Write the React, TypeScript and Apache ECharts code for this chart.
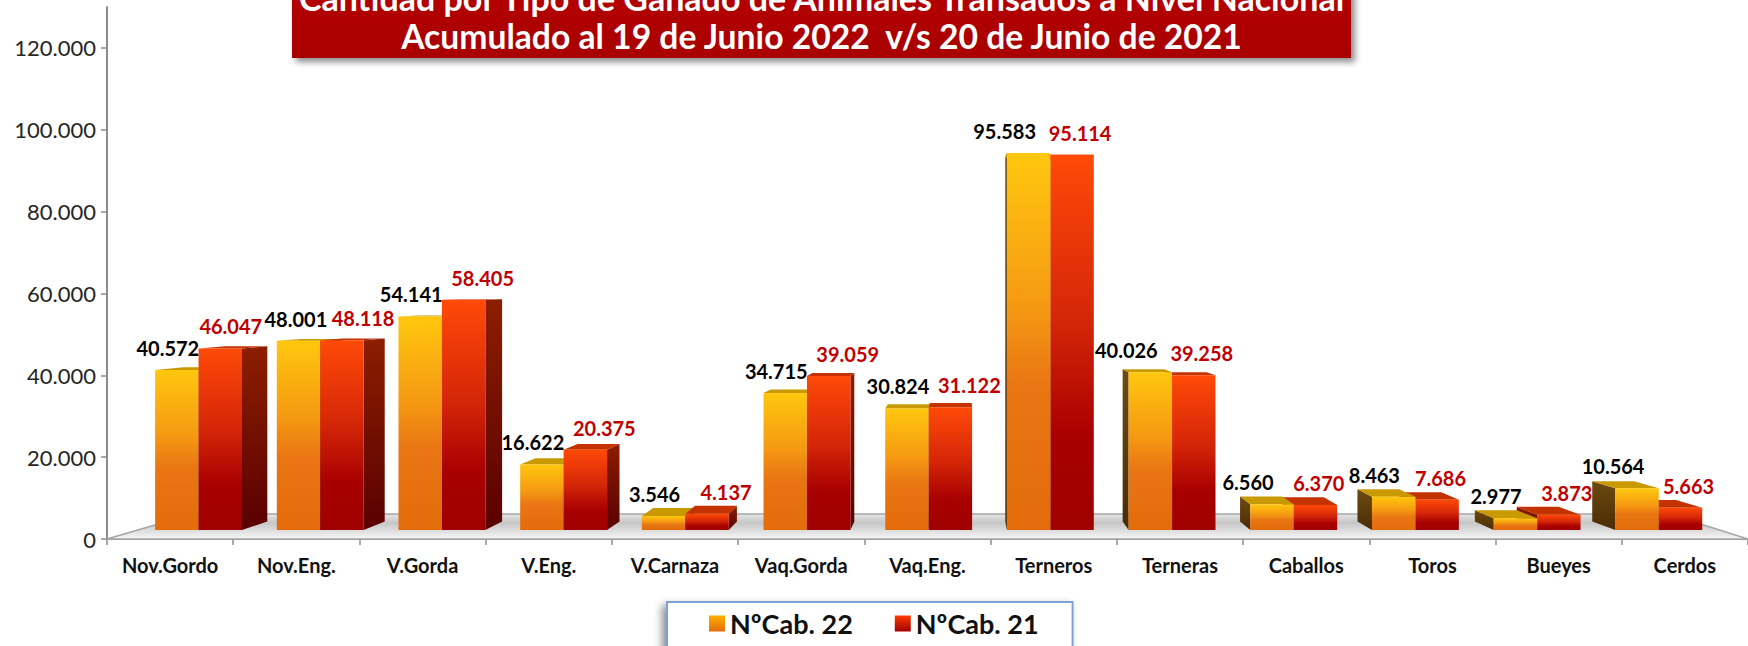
import React, { useEffect, useRef } from 'react';
import * as echarts from 'echarts';

const categories = ['Nov.Gordo', 'Nov.Eng.', 'V.Gorda', 'V.Eng.', 'V.Carnaza', 'Vaq.Gorda', 'Vaq.Eng.', 'Terneros', 'Terneras', 'Caballos', 'Toros', 'Bueyes', 'Cerdos'];
const cab22 = [40572, 48001, 54141, 16622, 3546, 34715, 30824, 95583, 40026, 6560, 8463, 2977, 10564];
const cab21 = [46047, 48118, 58405, 20375, 4137, 39059, 31122, 95114, 39258, 6370, 7686, 3873, 5663];
const seriesNames = ['NºCab. 22', 'NºCab. 21'];
const yMax = 130000;
const yInterval = 20000;
const titleLines = [
  'Cantidad por Tipo de Ganado de Animales Transados a Nivel Nacional',
  'Acumulado al 19 de Junio 2022  v/s 20 de Junio de 2021',
];

const fmt = (v: number) => String(Math.round(v)).replace(/\B(?=(\d{3})+(?!\d))/g, '.');

// perspective settings (rendering only)
const VX = 960;
const VY = 290;
const F1 = 0.036;
const F2 = 0.07;
const FLOOR = 0.1;
const HALF = 0.357;
const FONT = 'Lato';
const LABEL_SIZE = 20;
const LABEL_RISE = 22;

const proj = (x: number, y: number, t: number) => [x + t * (VX - x), y + t * (VY - y)];

const lg = (stops: [number, string][]) =>
  new echarts.graphic.LinearGradient(0, 0, 0, 1, stops.map(([offset, color]) => ({ offset, color })));

const palettes = [
  {
    front: () => lg([[0, '#FFC70E'], [0.4, '#F59A12'], [0.62, '#E97513'], [1, '#E46C0A']]),
    top: '#C99A00',
    side: () => lg([[0, '#6E4A10'], [1, '#4A2C05']]),
    label: '#000000',
  },
  {
    front: () => lg([[0, '#FF4A08'], [0.45, '#D42508'], [0.75, '#A80000'], [1, '#A00000']]),
    top: '#C43200',
    side: () => lg([[0, '#8C1E00'], [1, '#5A0000']]),
    label: '#C00000',
  },
];

const allSeries = [cab22, cab21];

function barGeom(api: any, side: number, idx: number, v: number) {
  const base = api.coord([idx, 0]);
  const topPt = api.coord([idx, v]);
  const bw = api.size([1, 0])[0];
  const cx = base[0];
  const xl = side === 0 ? cx - HALF * bw : cx;
  const xr = side === 0 ? cx : cx + HALF * bw;
  return { cx, xl, xr, y0: base[1], yv: topPt[1] };
}

// label placement: default offsets, then push apart labels that collide
function layoutLabels(api: any) {
  const boxes: { cx: number; cy: number; w: number }[] = [];
  for (let i = 0; i < categories.length; i++) {
    for (let s = 0; s < 2; s++) {
      const v = allSeries[s][i];
      const g = barGeom(api, s, i, v);
      const flt = proj(g.xl, g.yv, F1);
      const frt = proj(g.xr, g.yv, F1);
      const leftHalf = g.cx < VX;
      const dx = s === 0 ? (leftHalf ? -9 : -24) : leftHalf ? 19 : 8;
      const txt = fmt(v);
      const w = ((txt.length - 1) * 0.58 + 0.26) * LABEL_SIZE;
      boxes.push({ cx: (flt[0] + frt[0]) / 2 + dx, cy: flt[1] - LABEL_RISE, w });
    }
  }
  for (let k = 1; k < boxes.length; k++) {
    const a = boxes[k - 1];
    const b = boxes[k];
    if (Math.abs(a.cy - b.cy) < LABEL_SIZE) {
      const overlap = a.cx + a.w / 2 + 4 - (b.cx - b.w / 2);
      if (overlap > 0) {
        a.cx -= overlap / 2;
        b.cx += overlap / 2;
      }
    }
  }
  return boxes;
}

function makeBarRender(side: number) {
  const pal = palettes[side];
  return (params: any, api: any) => {
    const idx = api.value(0);
    const v = api.value(1);
    const g = barGeom(api, side, idx, v);
    const { xl, xr, y0, yv, cx } = g;
    const flt = proj(xl, yv, F1), frt = proj(xr, yv, F1), flb = proj(xl, y0, F1), frb = proj(xr, y0, F1);
    const blt = proj(xl, yv, F2), brt = proj(xr, yv, F2), blb = proj(xl, y0, F2), brb = proj(xr, y0, F2);
    const leftHalf = cx < VX;
    const zb = (side === 0) === leftHalf ? 10 : 20;
    const children: any[] = [];
    if (frt[0] < VX) {
      children.push({ type: 'polygon', z2: zb + 1, shape: { points: [frt, brt, brb, frb] }, style: { fill: pal.side() } });
    }
    if (flt[0] > VX) {
      children.push({ type: 'polygon', z2: zb + 1, shape: { points: [flt, blt, blb, flb] }, style: { fill: pal.side() } });
    }
    children.push({ type: 'polygon', z2: zb + 2, shape: { points: [flt, frt, brt, blt] }, style: { fill: pal.top } });
    children.push({
      type: 'rect', z2: zb + 3,
      shape: { x: flt[0], y: flt[1], width: frt[0] - flt[0], height: flb[1] - flt[1] },
      style: { fill: pal.front() },
    });
    const box = layoutLabels(api)[idx * 2 + side];
    children.push({
      type: 'text', z2: 100,
      x: box.cx,
      y: box.cy,
      style: {
        text: fmt(v), fill: pal.label, fontFamily: FONT, fontWeight: 'bold', fontSize: LABEL_SIZE,
        align: 'center', verticalAlign: 'middle',
      },
    });
    return { type: 'group', children };
  };
}

function floorRender(params: any, api: any) {
  const cs = params.coordSys;
  const yb = cs.y + cs.height;
  const fl = [cs.x, yb];
  const fr = [cs.x + cs.width, yb];
  const br = proj(fr[0], fr[1], FLOOR);
  const bl = proj(fl[0], fl[1], FLOOR);
  return {
    type: 'polygon',
    z2: 0,
    shape: { points: [fl, fr, br, bl] },
    style: {
      fill: lg([[0, '#e6e6e6'], [0.35, '#c6c6c6'], [0.7, '#e0e0e0'], [1, '#f7f7f7']]),
      stroke: '#a6a6a6',
      lineWidth: 1.5,
    },
  };
}

export default function App() {
  const ref = useRef<HTMLDivElement>(null);
  useEffect(() => {
    if (!ref.current) return;
    const chart = echarts.init(ref.current, undefined, { renderer: 'svg' });
    const axisColor = '#8c8c8c';
    const option: any = {
      animation: false,
      backgroundColor: '#ffffff',
      grid: { left: 107, right: 0, top: 7, bottom: 107, containLabel: false },
      xAxis: {
        type: 'category',
        data: categories,
        boundaryGap: true,
        axisLine: { show: true, lineStyle: { color: axisColor, width: 2 } },
        axisTick: { show: true, length: 6, lineStyle: { color: axisColor, width: 1.5 } },
        axisLabel: { interval: 0, margin: 16, color: '#111', fontFamily: FONT, fontWeight: 'bold', fontSize: 20 },
        splitLine: { show: false },
      },
      yAxis: {
        type: 'value',
        min: 0,
        max: yMax,
        interval: yInterval,
        axisLine: { show: true, lineStyle: { color: axisColor, width: 2 } },
        axisTick: { show: true, length: 6, lineStyle: { color: axisColor, width: 1.5 } },
        axisLabel: { showMaxLabel: false, margin: 11, color: '#262626', fontFamily: FONT, fontSize: 22, formatter: (v: number) => fmt(v) },
        splitLine: { show: false },
      },
      legend: {
        data: [
          { name: seriesNames[0], itemStyle: { color: lg([[0, '#FFB000'], [1, '#E46C0A']]) } },
          { name: seriesNames[1], itemStyle: { color: lg([[0, '#FF3A00'], [1, '#A00000']]) } },
        ],
        left: 667,
        top: 602,
        icon: 'rect',
        itemWidth: 16,
        itemHeight: 16,
        itemGap: 42,
        padding: [8, 34, 40, 42],
        backgroundColor: '#ffffff',
        borderColor: '#7da3d6',
        borderWidth: 2,
        shadowBlur: 8,
        shadowColor: 'rgba(0,0,0,0.45)',
        shadowOffsetX: -4,
        shadowOffsetY: 4,
        selectedMode: false,
        textStyle: { fontFamily: FONT, fontWeight: 'bold', fontSize: 27, color: '#111' },
      },
      graphic: [
        {
          type: 'rect', left: 292, top: -30, z: 10,
          shape: { width: 1059, height: 88 },
          style: {
            fill: lg([[0, '#B80404'], [1, '#A80000']]),
            shadowBlur: 6, shadowOffsetX: 4, shadowOffsetY: 4, shadowColor: 'rgba(0,0,0,0.45)',
          },
        },
        {
          type: 'text', x: 821.5, y: -3, z: 11,
          style: { text: titleLines[0], fill: '#ffffff', fontFamily: FONT, fontWeight: 'bold', fontSize: 34, align: 'center', verticalAlign: 'middle' },
        },
        {
          type: 'text', x: 821.5, y: 36, z: 11, scaleX: 0.99,
          style: { text: titleLines[1], fill: '#ffffff', fontFamily: FONT, fontWeight: 'bold', fontSize: 34, align: 'center', verticalAlign: 'middle' },
        },
      ],
      series: [
        {
          name: 'floor', type: 'custom', z: 1, silent: true, clip: false,
          renderItem: floorRender,
          data: [[0, 0]],
          encode: { x: 0, y: 1 },
        },
        {
          name: seriesNames[0], type: 'custom', z: 2, clip: false,
          renderItem: makeBarRender(0),
          itemStyle: { color: '#F08A10' },
          data: cab22.map((v, i) => [i, v]),
          encode: { x: 0, y: 1 },
        },
        {
          name: seriesNames[1], type: 'custom', z: 2, clip: false,
          renderItem: makeBarRender(1),
          itemStyle: { color: '#D01A05' },
          data: cab21.map((v, i) => [i, v]),
          encode: { x: 0, y: 1 },
        },
      ],
    };
    chart.setOption(option);
    return () => chart.dispose();
  }, []);
  return <div ref={ref} style={{ width: 1748, height: 646, position: 'absolute', left: 0, top: 0 }} />;
}
